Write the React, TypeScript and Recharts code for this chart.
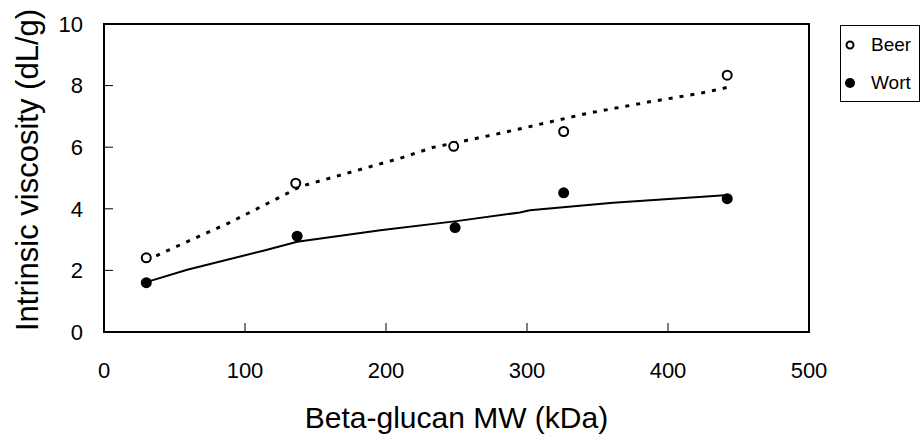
import React from "react";
import {
  ComposedChart,
  Line,
  Scatter,
  XAxis,
  YAxis,
  ReferenceArea,
  Legend,
  Label,
} from "recharts";

// measured points
const beerMW = [30, 136, 248, 326, 442];
const beerViscosity = [2.41, 4.83, 6.03, 6.51, 8.34];
const wortMW = [30, 137, 249, 326, 442];
const wortViscosity = [1.6, 3.11, 3.39, 4.52, 4.33];

// fitted curves
const beerFitMW = [30, 40, 89, 127, 139, 212, 233, 257, 281, 343, 389, 423, 443];
const beerFitViscosity = [2.32, 2.54, 3.55, 4.43, 4.72, 5.67, 5.99, 6.22, 6.45, 7.1, 7.49, 7.75, 7.95];
const wortFitMW = [30, 59, 113, 137, 196, 250, 295, 302, 361, 443];
const wortFitViscosity = [1.62, 2.02, 2.64, 2.93, 3.3, 3.6, 3.88, 3.95, 4.2, 4.45];

const xTicks = [0, 100, 200, 300, 400, 500];
const yTicks = [0, 2, 4, 6, 8, 10];

const zip = (xs: number[], ys: number[]) => xs.map((x, i) => ({ x, y: ys[i] }));

const beerPoints = zip(beerMW, beerViscosity);
const wortPoints = zip(wortMW, wortViscosity);
const beerFit = zip(beerFitMW, beerFitViscosity);
const wortFit = zip(wortFitMW, wortFitViscosity);

const FONT = '"Liberation Sans", Arial, sans-serif';

const OpenDot = (p: any) => (
  <circle cx={p.cx} cy={p.cy} r={4.5} fill="#fff" stroke="#000" strokeWidth={2} />
);
const FilledDot = (p: any) => <circle cx={p.cx} cy={p.cy} r={5.5} fill="#000" />;

const renderLegend = (props: any) => {
  const items = (props.payload || []).filter((e: any) => e.type !== "none");
  return (
    <div style={{ border: "1px solid #000", width: 78, height: 75, background: "#fff", fontFamily: FONT }}>
      {items.map((e: any) => (
        <div key={e.value} style={{ height: 38, display: "flex", alignItems: "center" }}>
          <svg width={30} height={20}>
            {e.value === "Beer" ? (
              <circle cx={9} cy={10} r={3.5} fill="#fff" stroke="#000" strokeWidth={2} />
            ) : (
              <circle cx={9} cy={10} r={5} fill="#000" />
            )}
          </svg>
          <span style={{ fontSize: 19, color: "#000" }}>{e.value}</span>
        </div>
      ))}
    </div>
  );
};

const YTitle = (props: any) => {
  const vb = props.viewBox;
  const cx = 27;
  const cy = vb.y + vb.height / 2 - 8;
  return (
    <text
      x={cx}
      y={cy}
      transform={`rotate(-90 ${cx} ${cy})`}
      textAnchor="middle"
      dominantBaseline="central"
      fontSize={31}
      fontFamily={FONT}
      fill="#000"
    >
      Intrinsic viscosity (dL/g)
    </text>
  );
};

export default function App() {
  return (
    <div style={{ position: "absolute", left: 0, top: 0, width: 922, height: 437, background: "#fff", fontFamily: FONT }}>
      <ComposedChart width={922} height={437} margin={{ top: 24, right: 113, bottom: 0, left: 0 }}>
        <XAxis
          type="number"
          dataKey="x"
          domain={[0, 500]}
          ticks={xTicks}
          allowDataOverflow
          height={105}
          tickSize={-9}
          tickMargin={39}
          tick={{ fill: "#000", fontSize: 22, fontFamily: FONT }}
          axisLine={{ stroke: "#000", strokeWidth: 2 }}
          tickLine={{ stroke: "#000" }}
        >
          <Label
            value="Beta-glucan MW (kDa)"
            position="insideBottom"
            offset={9}
            style={{ fontSize: 30, fill: "#000", fontFamily: FONT }}
          />
        </XAxis>
        <YAxis
          type="number"
          dataKey="y"
          domain={[0, 10]}
          ticks={yTicks}
          width={104}
          tickSize={-9}
          tickMargin={30}
          tick={{ fill: "#000", fontSize: 22, fontFamily: FONT }}
          axisLine={{ stroke: "#000", strokeWidth: 2 }}
          tickLine={{ stroke: "#000" }}
          label={<Label content={YTitle} />}
        />
        <ReferenceArea x1={0} x2={500} y1={0} y2={10} fill="none" stroke="#000" strokeWidth={2} />
        <Line
          data={beerFit}
          dataKey="y"
          type="linear"
          stroke="#000"
          strokeWidth={3}
          strokeDasharray="4 7"
          dot={false}
          legendType="none"
          isAnimationActive={false}
        />
        <Line
          data={wortFit}
          dataKey="y"
          type="linear"
          stroke="#000"
          strokeWidth={2}
          dot={false}
          legendType="none"
          isAnimationActive={false}
        />
        <Scatter name="Beer" data={beerPoints} shape={OpenDot} fill="#fff" isAnimationActive={false} />
        <Scatter name="Wort" data={wortPoints} shape={FilledDot} fill="#000" isAnimationActive={false} />
        <Legend
          layout="vertical"
          align="center"
          verticalAlign="middle"
          content={renderLegend}
          wrapperStyle={{ left: 840, top: 25, width: 80, height: 77 }}
        />
      </ComposedChart>
    </div>
  );
}
